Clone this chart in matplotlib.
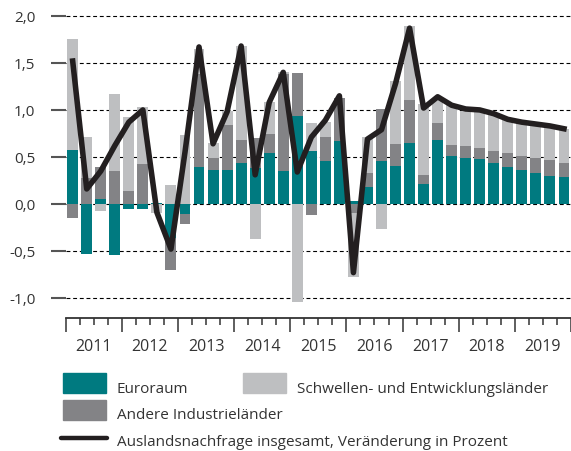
import matplotlib
matplotlib.use('Agg')
import matplotlib.pyplot as plt
import numpy as np
from matplotlib.patches import Rectangle
from matplotlib.lines import Line2D

plt.rcParams['font.family'] = ['Open Sans', 'DejaVu Sans']

years = ['2011', '2012', '2013', '2014', '2015', '2016', '2017', '2018', '2019']

# Beiträge in Prozentpunkten, Quartale 2011 Q1 bis 2019 Q4
euroraum = [0.57, -0.53, 0.05, -0.54, -0.05, -0.05, 0.01, -0.36,
            -0.11, 0.39, 0.36, 0.36, 0.44, 0.38, 0.54, 0.35,
            0.94, 0.56, 0.46, 0.67, 0.03, 0.18, 0.46, 0.40,
            0.65, 0.21, 0.68, 0.51, 0.49, 0.48, 0.44, 0.39,
            0.36, 0.33, 0.30, 0.29]
andere = [-0.15, 0.28, 0.34, 0.35, 0.14, 0.43, 0.00, -0.34,
          -0.10, 0.99, 0.13, 0.48, 0.24, 0.32, 0.20, 1.03,
          0.45, -0.12, 0.25, 0.46, -0.10, 0.15, 0.55, 0.24,
          0.46, 0.10, 0.18, 0.12, 0.13, 0.12, 0.12, 0.15,
          0.15, 0.16, 0.17, 0.15]
schwellen = [1.18, 0.43, -0.07, 0.82, 0.79, 0.60, -0.10, 0.20,
             0.73, 0.27, 0.16, 0.15, 1.00, -0.37, 0.34, 0.02,
             -1.04, 0.30, 0.16, 0.00, -0.68, 0.38, -0.27, 0.67,
             0.78, 0.75, 0.26, 0.42, 0.37, 0.39, 0.40, 0.36,
             0.35, 0.35, 0.35, 0.36]
insgesamt = [1.52, 0.16, 0.35, 0.62, 0.87, 1.00, -0.09, -0.48,
             0.55, 1.67, 0.64, 0.98, 1.68, 0.31, 1.08, 1.40,
             0.34, 0.71, 0.89, 1.15, -0.73, 0.69, 0.79, 1.28,
             1.87, 1.02, 1.14, 1.05, 1.01, 1.00, 0.96, 0.90,
             0.87, 0.85, 0.83, 0.80]

c_euro = '#007a80'
c_andere = '#838386'
c_schwellen = '#bebfc1'
c_line = '#231f20'

fig = plt.figure(figsize=(5.71, 4.52), dpi=100)
ax = fig.add_axes([0.115, 0.2942, 0.885, 0.6948])

x = np.arange(len(euroraum))
pos = np.zeros(len(x))
neg = np.zeros(len(x))
for vals, col in [(euroraum, c_euro), (andere, c_andere), (schwellen, c_schwellen)]:
    v = np.array(vals)
    bottom = np.where(v >= 0, pos, neg)
    ax.bar(x, v, bottom=bottom, width=0.78, color=col, zorder=2)
    pos = pos + np.clip(v, 0, None)
    neg = neg + np.clip(v, None, 0)

ax.plot(x, insgesamt, color=c_line, lw=4, zorder=3)

ax.set_xlim(-0.5, 35.4)
ax.set_ylim(-1.213, 2.127)
ax.set_yticks([-1.0, -0.5, 0.0, 0.5, 1.0, 1.5, 2.0])
ax.set_yticklabels(['{:.1f}'.format(t).replace('.', ',') for t in ax.get_yticks()])
ax.yaxis.grid(True, color='black', lw=0.8, linestyle=(0, (3.5, 2.5)), zorder=0)
ax.set_axisbelow(True)

for s in ['top', 'right', 'left']:
    ax.spines[s].set_visible(False)
ax.spines['bottom'].set_color('#333333')
ax.spines['bottom'].set_linewidth(1.3)

ax.tick_params(axis='y', length=10.8, width=1.5, color='#555555', pad=11,
               labelsize=11, labelcolor='#333333')
ax.set_xticks(np.arange(-0.5, 36, 4))
ax.set_xticks(np.arange(-0.5, 36, 1), minor=True)
ax.tick_params(axis='x', which='major', length=10, width=1.1, color='#333333', labelbottom=False)
ax.tick_params(axis='x', which='minor', length=5, width=1.1, color='#333333')

for i, yr in enumerate(years):
    ax.text(4 * i + 1.5, -0.089, yr, transform=ax.get_xaxis_transform(),
            ha='center', va='center', fontsize=11.5, color='#333333')

# Legende
W, H = 571.0, 452.0
def patch(px, py, col):
    fig.add_artist(Rectangle((px / W, 1 - (py + 20) / H), 43 / W, 20 / H,
                             transform=fig.transFigure, color=col))

patch(62.7, 374, c_euro)
patch(242.7, 374, c_schwellen)
patch(62.7, 400.7, c_andere)
fig.add_artist(Line2D([60.7 / W, 106.7 / W], [1 - 439.3 / H] * 2, transform=fig.transFigure,
                      color=c_line, lw=3.2, solid_capstyle='round'))

tkw = dict(fontsize=11, color='#333333', va='baseline', ha='left')
fig.text(117 / W, 1 - 393.3 / H, 'Euroraum', **tkw)
fig.text(297 / W, 1 - 393.3 / H, 'Schwellen- und Entwicklungsländer', **tkw)
fig.text(117 / W, 1 - 419.3 / H, 'Andere Industrieländer', **tkw)
fig.text(117 / W, 1 - 446.5 / H, 'Auslandsnachfrage insgesamt, Veränderung in Prozent', **tkw)

fig.savefig('out.png', dpi=100)
